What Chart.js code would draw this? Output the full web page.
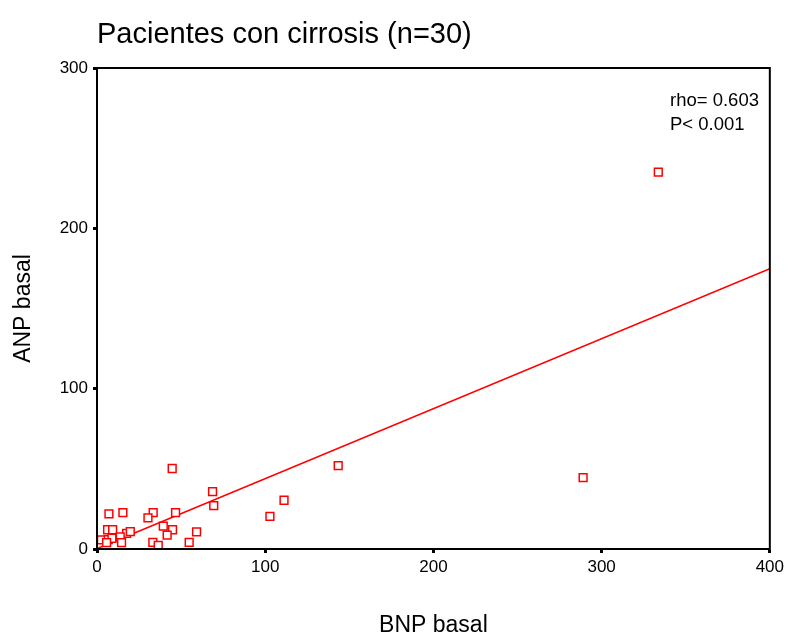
<!DOCTYPE html>
<html>
<head>
<meta charset="utf-8">
<script src="https://cdn.jsdelivr.net/npm/chart.js@4.4.1/dist/chart.umd.min.js"></script>
<style>
  html, body { margin: 0; padding: 0; background: #fff; }
  #wrap { width: 788px; height: 639px; }
</style>
</head>
<body>
<div id="wrap"><canvas id="myChart" width="788" height="639"></canvas></div>
<script>
// Data
const chart_title = "Pacientes con cirrosis (n=30)";
const x_label = "BNP basal";
const y_label = "ANP basal";
const stats_text = ["rho= 0.603", "P< 0.001"];

const bnp = [44.7, 68.7, 69.4, 7.1, 15.4, 33.4, 30.3, 46.7, 39.4, 44.9,
             41.7, 59.2, 6.3, 9.3, 17.6, 19.8, 2.6, 6.7, 8.9, 5.7,
             13.8, 14.6, 33.2, 36.4, 54.8, 143.4, 111.2, 102.8, 289, 333.7];
const anp = [50.2, 35.8, 27, 21.9, 22.7, 22.7, 19.4, 22.7, 14.2, 12,
             8.6, 10.7, 12, 12, 9.8, 10.9, 5.7, 5.9, 6.7, 4,
             7.6, 4, 4.2, 2.2, 4.2, 52, 30.4, 20.4, 44.5, 235];

// fit line ends
const fit_x = [0, 400];
const fit_y = [0.2, 174.8];

const x_ticks = [0, 100, 200, 300, 400];
const y_ticks = [0, 100, 200, 300];

const font_name = "'Liberation Sans', Arial, sans-serif";

// Frame + title + stats text
const framePlugin = {
  id: 'frame',
  afterDraw(chart) {
    const ctx = chart.ctx;
    const a = chart.chartArea;
    ctx.save();
    ctx.strokeStyle = '#000';
    ctx.lineWidth = 2;
    ctx.strokeRect(a.left, a.top, a.right - a.left, a.bottom - a.top);

    ctx.fillStyle = '#000';
    ctx.textBaseline = 'alphabetic';
    ctx.textAlign = 'left';
    ctx.font = "29px " + font_name;
    ctx.fillText(chart_title, 97, 43);

    ctx.font = "18.5px " + font_name;
    ctx.fillText(stats_text[0], 670, 106);
    ctx.fillText(stats_text[1], 670, 130);
    ctx.restore();
  }
};

const ctx = document.getElementById("myChart").getContext("2d");

const myChart = new Chart(ctx, {
  type: 'scatter',
  data: {
    datasets: [
      {
        label: 'fit',
        type: 'line',
        data: fit_x.map((x, i) => ({x: x, y: fit_y[i]})),
        borderColor: '#ff0000',
        borderWidth: 1.5,
        pointRadius: 0,
        fill: false,
        order: 2
      },
      {
        label: 'pacientes',
        data: bnp.map((x, i) => ({x: x, y: anp[i]})),
        pointStyle: 'rect',
        pointRadius: 5.5,
        borderColor: '#ff0000',
        backgroundColor: '#ffffff',
        borderWidth: 1.5,
        order: 1
      }
    ]
  },
  options: {
    responsive: false,
    animation: false,
    layout: { padding: { top: 68, right: 17, left: 0, bottom: 0 } },
    plugins: {
      legend: { display: false },
      tooltip: { enabled: false }
    },
    scales: {
      x: {
        type: 'linear',
        min: 0,
        max: 400,
        afterBuildTicks(scale) { scale.ticks = x_ticks.map(v => ({value: v})); },
        afterFit(scale) { scale.height = 90; },
        grid: { drawOnChartArea: false, tickLength: 4, tickWidth: 3, tickColor: '#000' },
        border: { color: '#000', width: 2 },
        ticks: { color: '#000', padding: 4, font: { family: font_name, size: 17 } },
        title: { display: true, text: x_label, color: '#000', padding: { top: 0, bottom: 0 }, font: { family: font_name, size: 23 } }
      },
      y: {
        type: 'linear',
        min: 0,
        max: 300,
        afterBuildTicks(scale) { scale.ticks = y_ticks.map(v => ({value: v})); },
        afterFit(scale) { scale.width = 97; },
        grid: { drawOnChartArea: false, tickLength: 4, tickWidth: 3, tickColor: '#000' },
        border: { color: '#000', width: 2 },
        ticks: { color: '#000', padding: 5, font: { family: font_name, size: 17 } },
        title: { display: true, text: y_label, color: '#000', padding: 10, font: { family: font_name, size: 23 } }
      }
    }
  },
  plugins: [framePlugin]
});
</script>
</body>
</html>
